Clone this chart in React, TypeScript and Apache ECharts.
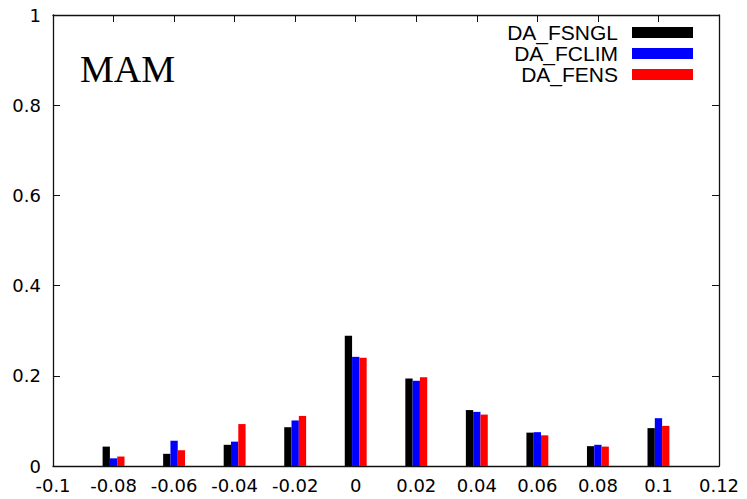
import React, { useEffect, useRef } from "react";
import * as echarts from "echarts";

const binCenters = [-0.08, -0.06, -0.04, -0.02, 0, 0.02, 0.04, 0.06, 0.08, 0.1];
const fsngl = [0.043, 0.027, 0.047, 0.086, 0.289, 0.194, 0.124, 0.074, 0.044, 0.084];
const fclim = [0.017, 0.056, 0.054, 0.101, 0.242, 0.189, 0.120, 0.075, 0.047, 0.106];
const fens = [0.021, 0.035, 0.093, 0.111, 0.240, 0.197, 0.114, 0.068, 0.043, 0.089];
const seriesNames = ["DA_FSNGL", "DA_FCLIM", "DA_FENS"];
const seriesColors = ["#000000", "#0000ff", "#ff0000"];
const seasonLabel = "MAM";

const fmt = (v: number) => {
  const r = Math.round(v * 100) / 100;
  return String(r);
};

export default function App() {
  const ref = useRef<HTMLDivElement>(null);
  useEffect(() => {
    if (!ref.current) return;
    const chart = echarts.init(ref.current, null, { renderer: "svg" });
    const values = [fsngl, fclim, fens];
    const axisLine = { show: true, onZero: false, lineStyle: { color: "#111", width: 1.3 } };
    const tick = { show: true, inside: true, length: 7, lineStyle: { color: "#111", width: 1 } };
    const labelFont = { fontFamily: "DejaVu Sans", fontSize: 18, color: "#000" };
    chart.setOption({
      animation: false,
      backgroundColor: "#fff",
      grid: { left: 53, right: 28, top: 15, bottom: 33, containLabel: false },
      legend: {
        orient: "vertical",
        right: 49,
        top: 17,
        align: "right",
        itemWidth: 61,
        itemHeight: 11,
        itemGap: 0,
        icon: "rect",
        textStyle: {
          fontFamily: "Liberation Sans",
          fontSize: 21,
          color: "#000",
          lineHeight: 20,
          width: 125,
          padding: [0, 9, 0, 0],
        },
        data: seriesNames,
      },
      xAxis: [
        {
          type: "value",
          position: "bottom",
          min: -0.1,
          max: 0.12,
          interval: 0.02,
          axisLine,
          axisTick: tick,
          splitLine: { show: false },
          axisLabel: { ...labelFont, margin: 10, formatter: fmt },
        },
        {
          type: "value",
          position: "top",
          min: -0.1,
          max: 0.12,
          interval: 0.02,
          axisLine,
          axisTick: tick,
          splitLine: { show: false },
          axisLabel: { show: false },
        },
      ],
      yAxis: [
        {
          type: "value",
          position: "left",
          min: 0,
          max: 1,
          interval: 0.2,
          axisLine,
          axisTick: tick,
          splitLine: { show: false },
          axisLabel: { ...labelFont, margin: 12, formatter: fmt },
        },
        {
          type: "value",
          position: "right",
          min: 0,
          max: 1,
          interval: 0.2,
          axisLine,
          axisTick: tick,
          splitLine: { show: false },
          axisLabel: { show: false },
        },
      ],
      graphic: [
        {
          type: "text",
          x: 80,
          y: 69,
          style: {
            text: seasonLabel,
            font: "38px 'Liberation Serif'",
            fill: "#000",
            textAlign: "left",
            textVerticalAlign: "middle",
          },
        },
      ],
      series: seriesNames.map((name, i) => ({
        name,
        type: "bar",
        xAxisIndex: 0,
        yAxisIndex: 0,
        barWidth: 7.3,
        barGap: "0%",
        itemStyle: { color: seriesColors[i] },
        data: binCenters.map((x, j) => [x, values[i][j]]),
      })),
    });
    return () => chart.dispose();
  }, []);
  return (
    <div
      ref={ref}
      style={{ position: "fixed", left: 0, top: 0, width: 747, height: 499, background: "#fff" }}
    />
  );
}
